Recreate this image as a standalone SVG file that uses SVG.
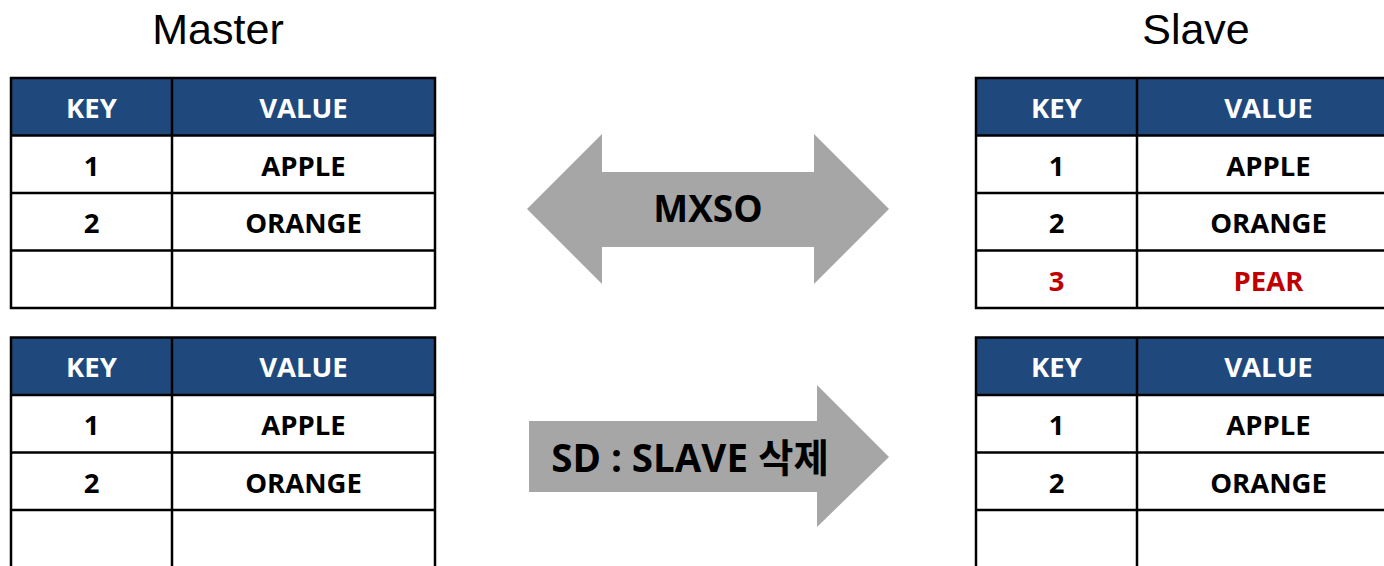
<svg xmlns="http://www.w3.org/2000/svg" width="1384" height="566" viewBox="0 0 1384 566">
  <style>
    .title { font-family: "Liberation Sans", Arial, sans-serif; font-size: 43px; fill: #000; text-anchor: middle; }
    .hdr { fill: #1f497d; }
    .cell { fill: #ffffff; }
    .grid { stroke: #000; stroke-width: 2.5; fill: none; }
    .th { font-family: "Open Sans", "Noto Sans CJK KR", sans-serif; font-weight: 700; font-size: 27.5px; fill: #ffffff; text-anchor: middle; }
    .td { font-family: "Open Sans", "Noto Sans CJK KR", sans-serif; font-weight: 700; font-size: 27.5px; fill: #000; text-anchor: middle; }
    .new { fill: #c00000; }
    .arrow { fill: #a6a6a6; }
    .alabel { font-family: "Open Sans", "Noto Sans CJK KR", sans-serif; font-weight: 700; font-size: 37px; fill: #000; text-anchor: middle; }
  </style>
  <defs>
    <!-- one key/value table: header + three rows, 424 wide -->
    <g id="tbl">
      <rect x="0" y="0" width="424" height="57.5" class="hdr"/>
      <rect x="0" y="57.5" width="424" height="172.5" class="cell"/>
      <rect x="0" y="0" width="424" height="230" class="grid"/>
      <line x1="161" y1="0" x2="161" y2="230" class="grid"/>
      <line x1="0" y1="57.5" x2="424" y2="57.5" class="grid"/>
      <line x1="0" y1="115" x2="424" y2="115" class="grid"/>
      <line x1="0" y1="172.5" x2="424" y2="172.5" class="grid"/>
      <text x="80.5" y="39.5" class="th">KEY</text>
      <text x="292.5" y="39.5" class="th">VALUE</text>
    </g>
  </defs>

  <rect width="1384" height="566" fill="#ffffff"/>

  <text x="218" y="44" class="title">Master</text>
  <text x="1196" y="44" class="title">Slave</text>

  <g id="master-top" transform="translate(11,78)">
    <use href="#tbl"/>
    <text x="80.5" y="97.5" class="td">1</text>
    <text x="292.5" y="97.5" class="td">APPLE</text>
    <text x="80.5" y="155" class="td">2</text>
    <text x="292.5" y="155" class="td">ORANGE</text>
  </g>

  <g id="slave-top" transform="translate(976,78)">
    <use href="#tbl"/>
    <text x="80.5" y="97.5" class="td">1</text>
    <text x="292.5" y="97.5" class="td">APPLE</text>
    <text x="80.5" y="155" class="td">2</text>
    <text x="292.5" y="155" class="td">ORANGE</text>
    <text x="80.5" y="213" class="td new">3</text>
    <text x="292.5" y="213" class="td new">PEAR</text>
  </g>

  <g id="master-bottom" transform="translate(11,337.5)">
    <use href="#tbl"/>
    <text x="80.5" y="97.5" class="td">1</text>
    <text x="292.5" y="97.5" class="td">APPLE</text>
    <text x="80.5" y="155" class="td">2</text>
    <text x="292.5" y="155" class="td">ORANGE</text>
  </g>

  <g id="slave-bottom" transform="translate(976,337.5)">
    <use href="#tbl"/>
    <text x="80.5" y="97.5" class="td">1</text>
    <text x="292.5" y="97.5" class="td">APPLE</text>
    <text x="80.5" y="155" class="td">2</text>
    <text x="292.5" y="155" class="td">ORANGE</text>
  </g>

  <g id="connectors">
    <g id="mxso">
      <polygon class="arrow" points="527,209 602,134 602,172 814,172 814,134 889,209 814,284 814,247 602,247 602,284"/>
      <text x="708" y="222" class="alabel">MXSO</text>
    </g>
    <g id="sd">
      <polygon class="arrow" points="529,421 817,421 817,385 889,457 817,527 817,492 529,492"/>
      <text x="690" y="472" class="alabel" style="font-size:38.5px">SD : SLAVE 삭제</text>
    </g>
  </g>
</svg>
